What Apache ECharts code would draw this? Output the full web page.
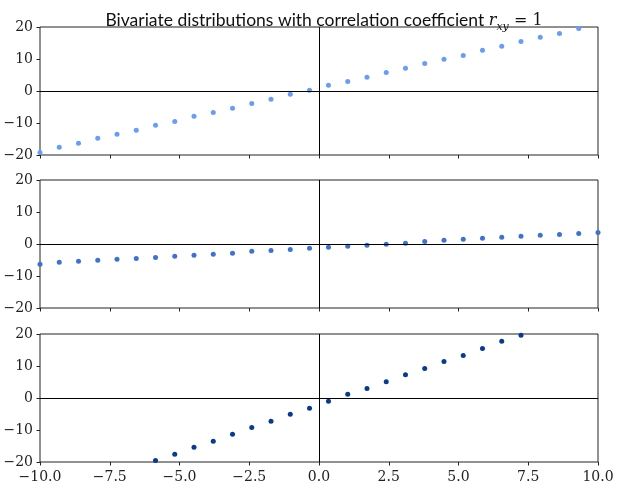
<!DOCTYPE html>
<html>
<head>
<meta charset="utf-8">
<script src="https://cdn.jsdelivr.net/npm/echarts@6/dist/echarts.min.js"></script>
<style>html,body{margin:0;padding:0;background:#fff;}#c{width:618px;height:491px;}</style>
</head>
<body>
<div id="c"></div>
<script>
const xValues = [-10.00, -9.31, -8.62, -7.93, -7.24, -6.55, -5.86, -5.17, -4.48, -3.79, -3.10, -2.41, -1.72, -1.03, -0.34,
                 0.34, 1.03, 1.72, 2.41, 3.10, 3.79, 4.48, 5.17, 5.86, 6.55, 7.24, 7.93, 8.62, 9.31, 10.00];
const topY = [-19.2, -17.6, -16.3, -14.8, -13.5, -12.3, -10.7, -9.5, -7.9, -6.7, -5.4, -3.9, -2.6, -1.0, 0.2,
              1.8, 3.0, 4.3, 5.8, 7.1, 8.6, 9.9, 11.1, 12.7, 14.0, 15.5, 16.8, 18.0, 19.5, 21.0];
const midY = [-6.3, -5.7, -5.4, -5.1, -4.8, -4.5, -4.2, -3.8, -3.5, -3.2, -2.9, -2.3, -2.0, -1.7, -1.3,
              -1.0, -0.7, -0.4, -0.1, 0.2, 0.8, 1.2, 1.5, 1.8, 2.1, 2.4, 2.7, 3.0, 3.3, 3.6];
const botY = [-32.0, -29.9, -27.8, -25.7, -23.6, -21.5, -19.5, -17.6, -15.4, -13.5, -11.3, -9.2, -7.3, -5.1, -3.2,
              -1.0, 1.2, 3.0, 5.1, 7.3, 9.2, 11.4, 13.3, 15.5, 17.7, 19.6, 21.8, 23.9, 26.0, 28.1];
const seriesY = [topY, midY, botY];
const colors = ['#6c9cf0', '#4271cc', '#0b3a8d'];
const xTicks = [-10, -7.5, -5, -2.5, 0, 2.5, 5, 7.5, 10];
const yTicks = [-20, -10, 0, 10, 20];
const titleText = 'Bivariate distributions with correlation coefficient ';

const chart = echarts.init(document.getElementById('c'), null, {renderer: 'canvas'});
const tops = [27, 180, 334];
const grids = [], xAxes = [], yAxes = [], series = [];
const minus = s => s.replace('-', '\u2212');
for (let i = 0; i < 3; i++) {
  grids.push({left: 40, right: 20, top: tops[i], height: 128, show: true, borderColor: '#222', borderWidth: 1, backgroundColor: 'transparent'});
  xAxes.push({
    type: 'value', gridIndex: i, min: xTicks[0], max: xTicks[xTicks.length - 1], interval: 2.5,
    axisLine: {show: false, onZero: false},
    axisTick: {show: true, length: 3.5, lineStyle: {color: '#222', width: 1}},
    splitLine: {show: false},
    axisLabel: {show: i === 2, margin: 8, color: '#222', fontFamily: 'DejaVu Serif', fontSize: 14,
      formatter: v => minus(v.toFixed(1))}
  });
  yAxes.push({
    type: 'value', gridIndex: i, min: yTicks[0], max: yTicks[yTicks.length - 1], interval: 10,
    axisLine: {show: false, onZero: false},
    axisTick: {show: true, length: 3.5, lineStyle: {color: '#222', width: 1}},
    splitLine: {show: false},
    axisLabel: {margin: 7, color: '#222', fontFamily: 'DejaVu Serif', fontSize: 14,
      formatter: v => minus(String(v))}
  });
  series.push({
    type: 'scatter', xAxisIndex: i, yAxisIndex: i, symbolSize: 5,
    itemStyle: {color: colors[i], opacity: 1},
    data: xValues.map((x, k) => [x, seriesY[i][k]]),
    clip: true,
    markLine: {
      silent: true, symbol: ['none', 'none'], animation: false,
      label: {show: false},
      lineStyle: {color: '#000', type: 'solid', width: 1},
      data: [{yAxis: 0}, {xAxis: 0}]
    }
  });
}
chart.setOption({
  animation: false,
  title: {
    left: 319, textAlign: 'center', top: 2,
    text: '{t|' + titleText + '}{m|r}{s|xy}{e| = 1}',
    textStyle: {
      fontWeight: 'normal',
      rich: {
        t: {fontFamily: 'Lato', fontWeight: 'normal', fontSize: 17.5, color: '#111', lineHeight: 22, verticalAlign: 'bottom'},
        m: {fontFamily: 'DejaVu Serif', fontWeight: 'normal', fontStyle: 'italic', fontSize: 16, color: '#111', lineHeight: 22, verticalAlign: 'bottom'},
        s: {fontFamily: 'DejaVu Serif', fontWeight: 'normal', fontStyle: 'italic', fontSize: 11, color: '#111', lineHeight: 14, verticalAlign: 'bottom', padding: [0, 0, -4, 0]},
        e: {fontFamily: 'DejaVu Serif', fontWeight: 'normal', fontSize: 16, color: '#111', lineHeight: 22, verticalAlign: 'bottom'}
      }
    }
  },
  grid: grids, xAxis: xAxes, yAxis: yAxes, series: series
});
</script>
</body>
</html>
